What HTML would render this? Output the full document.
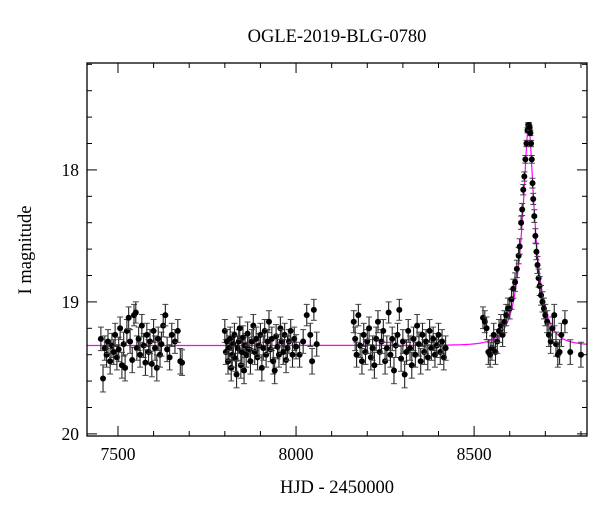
<!DOCTYPE html>
<html><head><meta charset="utf-8"><style>
html,body{margin:0;padding:0;background:#fff;}
svg{display:block;font-family:"Liberation Serif",serif;}
</style></head><body>
<svg id="chart" width="600" height="512" viewBox="0 0 600 512" xmlns="http://www.w3.org/2000/svg">
<text x="337" y="42" font-size="18.5" text-anchor="middle">OGLE-2019-BLG-0780</text>
<text x="337" y="493" font-size="18.5" text-anchor="middle">HJD - 2450000</text>
<text x="31" y="250" font-size="18.5" text-anchor="middle" transform="rotate(-90 31 250)">I magnitude</text>
<g id="ticks"></g><g id="model"></g><g id="points"></g>
<rect x="87" y="63" width="500" height="373" fill="none" stroke="#000" stroke-width="1.3"/>
</svg>
<script>
const xTickLabels=[7500,8000,8500];
const yTickLabels=[18,19,20];
const t1=[7452,7458,7463,7468,7472,7478,7483,7488,7492,7497,7502,7506,7511,7516,7520,7525,7530,7534,7540,7545,7550,7553,7558,7562,7567,7572,7577,7581,7586,7590,7595,7600,7604,7609,7613,7618,7622,7627,7633,7638,7645,7651,7660,7668,7675,7680];
const m1=[19.28,19.58,19.35,19.40,19.30,19.45,19.33,19.38,19.25,19.42,19.36,19.20,19.48,19.32,19.50,19.22,19.12,19.30,19.44,19.10,19.08,19.35,19.28,19.40,19.18,19.33,19.46,19.25,19.38,19.30,19.47,19.22,19.35,19.50,19.28,19.40,19.32,19.18,19.10,19.36,19.42,19.25,19.30,19.22,19.45,19.46];
const t2=[7800,7803,7806,7809,7812,7815,7818,7821,7824,7827,7830,7833,7836,7839,7842,7845,7848,7851,7854,7857,7860,7864,7868,7872,7876,7880,7884,7888,7892,7896,7900,7904,7908,7912,7916,7920,7924,7928,7932,7936,7940,7944,7948,7952,7956,7960,7964,7968,7972,7976,7980,7985,7990,7995,8000,8010,8020,8030,8040,8045,8050,8058];
const m2=[19.22,19.38,19.30,19.45,19.35,19.28,19.50,19.40,19.32,19.25,19.43,19.55,19.35,19.30,19.20,19.48,19.38,19.27,19.52,19.33,19.40,19.24,19.36,19.45,19.30,19.18,19.38,19.28,19.42,19.33,19.25,19.50,19.35,19.22,19.40,19.30,19.15,19.36,19.28,19.45,19.52,19.26,19.34,19.40,19.20,19.30,19.38,19.25,19.44,19.35,19.30,19.22,19.40,19.28,19.34,19.40,19.30,19.10,19.25,19.45,19.06,19.32];
const t3=[8162,8166,8170,8175,8180,8185,8190,8195,8200,8205,8210,8215,8220,8225,8230,8235,8240,8245,8250,8255,8260,8265,8270,8275,8280,8285,8290,8295,8300,8305,8310,8315,8320,8325,8330,8335,8340,8345,8350,8355,8360,8365,8370,8375,8380,8385,8390,8395,8400,8405,8410,8415,8420];
const m3=[19.15,19.28,19.40,19.10,19.33,19.45,19.25,19.38,19.30,19.20,19.42,19.35,19.48,19.28,19.15,19.38,19.30,19.22,19.45,19.35,19.08,19.40,19.28,19.52,19.33,19.25,19.06,19.43,19.30,19.55,19.38,19.22,19.35,19.48,19.28,19.40,19.18,19.32,19.45,19.25,19.38,19.30,19.42,19.22,19.35,19.28,19.40,19.33,19.25,19.38,19.30,19.42,19.35];
const t4=[8525,8530,8535,8540,8545,8550,8555,8560,8565,8570,8575,8580,8585,8590,8595,8600,8605,8610,8615,8620,8625,8628,8632,8635,8638,8641,8644,8647,8650,8652,8654,8656,8658,8660,8662,8664,8666,8669,8672,8675,8678,8681,8684,8688,8692,8696,8700,8705,8710,8715,8720,8725,8730,8735,8740,8745,8755,8770,8800];
const m4=[19.12,19.15,19.20,19.38,19.40,19.35,19.25,19.38,19.30,19.22,19.18,19.25,19.15,19.10,19.05,19.05,18.98,18.90,18.85,18.75,18.65,18.58,18.40,18.30,18.15,18.05,17.92,17.80,17.70,17.66,17.66,17.68,17.72,17.80,17.92,18.10,18.22,18.35,18.50,18.62,18.72,18.82,18.88,18.95,19.00,19.05,19.10,19.15,19.25,19.30,19.20,19.10,19.32,19.40,19.38,19.25,19.15,19.38,19.40];
const modelBase=19.33, modelT0=8653, modelTE=45, modelU0=0.22;

const NS="http://www.w3.org/2000/svg";
const X0=87,X1=587,Y0=63,Y1=436,TMIN=7413,TMAX=8817,MMIN=17.19,MMAX=20.016;
const xs=t=>X0+(t-TMIN)/(TMAX-TMIN)*(X1-X0);
const ys=m=>Y0+(m-MMIN)/(MMAX-MMIN)*(Y1-Y0);
function mk(tag,attrs,parent){const e=document.createElementNS(NS,tag);for(const k in attrs)e.setAttribute(k,attrs[k]);parent.appendChild(e);return e;}
const tg=document.getElementById('ticks');
for(let t=7500;t<=8800;t+=100){
  const major=t%500===0, L=major?10:5, x=xs(t);
  const a=mk('line',{x1:x,y1:Y1,x2:x,y2:Y1-L,stroke:'#000','stroke-width':1},tg);
  
  
  const b=mk('line',{x1:x,y1:Y0,x2:x,y2:Y0+L,stroke:'#000','stroke-width':1},tg);
  
  
}
xTickLabels.forEach(v=>{
  const e=mk('text',{x:xs(v),y:Y1+24,'font-size':17.5,'text-anchor':'middle'},tg);e.textContent=v;
  
  
});
for(let i=0;i<=14;i++){
  const m=17.2+i*0.2, major=Math.abs(m-Math.round(m))<0.01, L=major?10:5, y=ys(m);
  const a=mk('line',{x1:X0,y1:y,x2:X0+L,y2:y,stroke:'#000','stroke-width':1},tg);
  
  
  const b=mk('line',{x1:X1,y1:y,x2:X1-L,y2:y,stroke:'#000','stroke-width':1},tg);
  
  
}
yTickLabels.forEach(v=>{
  const e=mk('text',{x:X0-8,y:ys(v)+6,'font-size':17.5,'text-anchor':'end'},tg);e.textContent=v;
  
  
});
let d='';
for(let t=TMIN;t<=TMAX;t+=1){
  const tau=(t-modelT0)/modelTE,u=Math.sqrt(modelU0*modelU0+tau*tau);
  const A=(u*u+2)/(u*Math.sqrt(u*u+4));
  const m=modelBase-2.5*Math.log10(A);
  d+=(d?'L':'M')+xs(t).toFixed(1)+' '+ys(m).toFixed(1);
}
const mp=mk('path',{d:d,fill:'none',stroke:'#ff00ff','stroke-width':1.2},document.getElementById('model'));


const pg=document.getElementById('points');
[[t1,m1],[t2,m2],[t3,m3],[t4,m4]].forEach(([T,M])=>{
  const n=Math.min(T.length,M.length);
  for(let i=0;i<n;i++){
    const x=xs(T[i]),y=ys(M[i]);
    const err=0.015+0.075*Math.max(0,(M[i]-17.6))/1.7;
    const y1=ys(M[i]-err),y2=ys(M[i]+err);
    const g=mk('g',{},pg);
    
    
    mk('line',{x1:x,y1:y1,x2:x,y2:y2,stroke:'#222','stroke-width':1.1},g);
    mk('line',{x1:x-3,y1:y1,x2:x+3,y2:y1,stroke:'#444','stroke-width':1},g);
    mk('line',{x1:x-3,y1:y2,x2:x+3,y2:y2,stroke:'#444','stroke-width':1},g);
    mk('circle',{cx:x,cy:y,r:3,fill:'#000'},g);
  }
});
</script>
</body></html>
